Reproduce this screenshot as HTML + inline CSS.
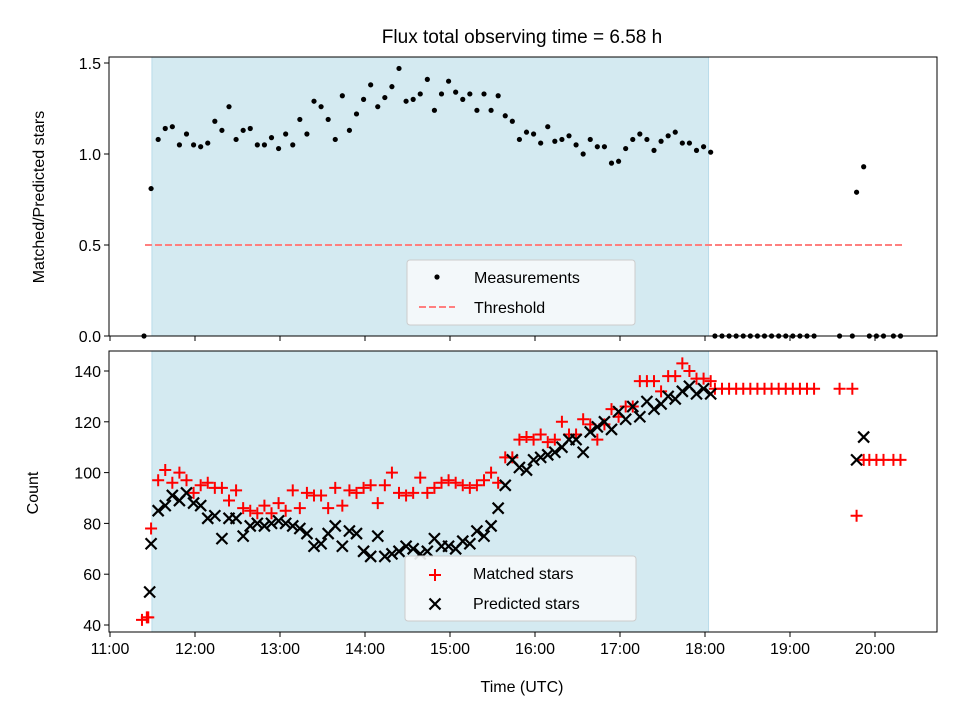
<!DOCTYPE html>
<html><head><meta charset="utf-8"><style>
body{margin:0;background:#fff}
svg text{font-family:"Liberation Sans","DejaVu Sans",sans-serif;fill:#000}
</style></head><body>
<svg id="c" width="960" height="720" xmlns="http://www.w3.org/2000/svg"></svg>
<script>
// ---- data ----
const mainTimes=[29,34,39,44,49,54,59,64,69,74,79,84,89,94,99,104,109,114,119,124,129,134,139,144,149,154,159,164,169,174,179,184,189,194,199,204,209,214,219,224,229,234,239,244,249,254,259,264,269,274,279,284,289,294,299,304,309,314,319,324,329,334,339,344,349,354,359,364,369,374,379,384,389,394,399,404,409,414,419,424];
const ratioMain=[0.81,1.08,1.14,1.15,1.05,1.11,1.05,1.04,1.06,1.18,1.13,1.26,1.08,1.13,1.14,1.05,1.05,1.09,1.03,1.11,1.05,1.19,1.11,1.29,1.26,1.19,1.08,1.32,1.13,1.22,1.30,1.38,1.26,1.31,1.37,1.47,1.29,1.30,1.33,
1.41,1.24,1.33,1.40,1.34,1.30,1.33,1.24,1.33,1.24,1.32,1.21,1.18,1.08,1.12,1.11,1.06,1.15,1.07,1.08,1.10,1.05,1.00,1.08,1.04,1.04,0.95,0.96,1.03,1.08,1.11,1.08,1.02,1.07,1.10,1.12,1.06,1.06,1.02,1.04,1.01];
const matchedMain=[78,97,101,96,100,97,92,95,96,94,94,89,93,86,85,84,87,84,88,85,93,86,92,91,91,86,94,87,93,92,94,95,88,95,100,92,91,92,98,92,94,96,97,96,95,94,95,97,100,96,106,106,113,114,113,115,112,113,120,115,115,121,119,113,119,125,122,126,126,136,136,136,132,138,138,143,140,137,137,136];
const predictedMain=[72,85,87,91,89,92,88,87,82,83,74,82,82,75,79,80,79,80,81,80,79,78,76,71,72,76,79,71,77,76,69,67,75,67,68,69,71,70,68,69,74,71,71,70,73,72,77,75,79,86,95,105,102,101,105,106,107,108,110,113,113,108,116,118,120,117,124,121,126,122,128,125,127,130,129,132,134,131,133,131];
const earlyTimes=[24,25,28];
const ratioEarly=[0];
const matchedEarly=[42,43,43];
const predictedEarly=[53];
const predictedEarlyTimes=[28];
const lateTimes=[427,432,437,442,447,452,457,462,467,472,477,482,487,492,497,515,524,527,532,536,541,546,553,558];
const ratioLate=[0,0,0,0,0,0,0,0,0,0,0,0,0,0,0,0,0,0.79,0.93,0,0,0,0,0];
const matchedLate=[133,133,133,133,133,133,133,133,133,133,133,133,133,133,133,133,133,83,105,105,105,105,105,105];
const predictedLateTimes=[527,532];
const predictedLate=[105,114];
const xTicks=["11:00","12:00","13:00","14:00","15:00","16:00","17:00","18:00","19:00","20:00"];
const yTopTicks=[0,0.5,1.0,1.5];
const yBotTicks=[40,60,80,100,120,140];
const shadeStart=29.6, shadeEnd=422.5, threshold=0.5;

// ---- scales ----
const L=109,R=937,T1=57,B1=336,T2=351,B2=632;
const X=m=>110+85*m/60;
const YT=v=>336-182*v;
const YB=v=>625-(v-40)*2.54;
const svg=document.getElementById('c');
const NS='http://www.w3.org/2000/svg';
function mk(tag,attrs,parent){const e=document.createElementNS(NS,tag);for(const k in attrs)e.setAttribute(k,attrs[k]);(parent||svg).appendChild(e);return e;}

// shading
[[T1,B1],[T2,B2]].forEach(([t,b],i)=>{
 const r=mk('rect',{x:X(shadeStart),y:t,width:X(shadeEnd)-X(shadeStart),height:b-t,fill:'#d4eaf1',stroke:'#b9dcea','stroke-width':1});
 
 
});
// threshold
const th=mk('line',{x1:145,x2:902,y1:YT(threshold),y2:YT(threshold),stroke:'#ff7f7f','stroke-width':2,'stroke-dasharray':'7,3'});



// top points
const gT=mk('g',{});


function dot(t,v){const c=mk('circle',{cx:X(t),cy:YT(v),r:2.6,fill:'#000'},gT);}
ratioEarly.forEach((v,i)=>dot(earlyTimes[0],v));
mainTimes.forEach((t,i)=>dot(t,ratioMain[i]));
lateTimes.forEach((t,i)=>dot(t,ratioLate[i]));

// bottom markers
const gM=mk('g',{});
const gP=mk('g',{});
function plus(x,y,g){const p=mk('path',{d:`M${x-6} ${y}H${x+6}M${x} ${y-6}V${y+6}`,stroke:'#f00','stroke-width':2,fill:'none'},g);return p;}
function cross(x,y,g){const p=mk('path',{d:`M${x-5.5} ${y-5.5}L${x+5.5} ${y+5.5}M${x-5.5} ${y+5.5}L${x+5.5} ${y-5.5}`,stroke:'#000','stroke-width':2.2,fill:'none'},g);return p;}
matchedEarly.forEach((v,i)=>plus(X(earlyTimes[i]===25?26:earlyTimes[i]===28?27:earlyTimes[i])-(i===0?2:0),YB(v),gM));
predictedEarly.forEach((v,i)=>cross(X(predictedEarlyTimes[i]),YB(v),gP));
mainTimes.forEach((t,i)=>plus(X(t),YB(matchedMain[i]),gM));
mainTimes.forEach((t,i)=>cross(X(t),YB(predictedMain[i]),gP));
lateTimes.forEach((t,i)=>plus(X(t),YB(matchedLate[i]),gM));
predictedLateTimes.forEach((t,i)=>cross(X(t),YB(predictedLate[i]),gP));

// axes frames
[[T1,B1,'top-axes-frame'],[T2,B2,'bottom-axes-frame']].forEach(([t,b,n])=>{const r=mk('rect',{x:L,y:t,width:R-L,height:b-t,fill:'none',stroke:'#000','stroke-width':1});});
// x ticks
xTicks.forEach((s,i)=>{const x=X(i*60);
 mk('line',{x1:x,x2:x,y1:B1,y2:B1+5,stroke:'#000'});
 mk('line',{x1:x,x2:x,y1:B2,y2:B2+5,stroke:'#000'});
 const tx=mk('text',{x:x,y:B2+22,'font-size':16,'text-anchor':'middle'});tx.textContent=s;
 
});
yTopTicks.forEach(v=>{const y=YT(v);mk('line',{x1:L-5,x2:L,y1:y,y2:y,stroke:'#000'});
 const tx=mk('text',{x:L-8,y:y+6,'font-size':16,'text-anchor':'end'});tx.textContent=v.toFixed(1);
 });
yBotTicks.forEach(v=>{const y=YB(v);mk('line',{x1:L-5,x2:L,y1:y,y2:y,stroke:'#000'});
 const tx=mk('text',{x:L-8,y:y+6,'font-size':16,'text-anchor':'end'});tx.textContent=v;
 });

// titles
function txt(s,a,n){const t=mk('text',a);t.textContent=s;return t;}
txt('Flux total observing time = 6.58 h',{x:522,y:43,'font-size':19,'text-anchor':'middle'},'chart-title');
txt('Time (UTC)',{x:522,y:692,'font-size':16,'text-anchor':'middle'},'x-axis-title');
txt('Matched/Predicted stars',{x:44,y:197,'font-size':16,'text-anchor':'middle',transform:'rotate(-90 44 197)'},'y-top-axis-title');
txt('Count',{x:38,y:493,'font-size':16,'text-anchor':'middle',transform:'rotate(-90 38 493)'},'y-bottom-axis-title');

// legends
const lg1=mk('g',{});
mk('rect',{x:407,y:260,width:228,height:65,rx:3,fill:'#f6f9fb','fill-opacity':0.9,stroke:'#ccc'},lg1);
mk('circle',{cx:437,cy:277,r:2.6,fill:'#000'},lg1);
txt('Measurements',{x:474,y:283,'font-size':16},'legend-measurements');
mk('line',{x1:419,x2:455,y1:307,y2:307,stroke:'#ff7f7f','stroke-width':2,'stroke-dasharray':'7,3'},lg1);
txt('Threshold',{x:474,y:313,'font-size':16},'legend-threshold');
const lg2=mk('g',{});
mk('rect',{x:405,y:556,width:231,height:65,rx:3,fill:'#f6f9fb','fill-opacity':0.9,stroke:'#ccc'},lg2);
plus(435,575,lg2);cross(435,604,lg2);
txt('Matched stars',{x:473,y:579,'font-size':16},'legend-matched');
txt('Predicted stars',{x:473,y:609,'font-size':16},'legend-predicted');
</script>
</body></html>
